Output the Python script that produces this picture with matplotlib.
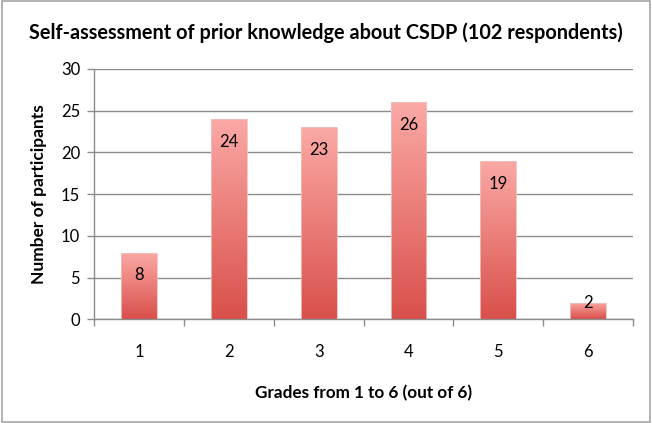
import numpy as np
import matplotlib
matplotlib.use("Agg")
import matplotlib.pyplot as plt
from matplotlib.colors import LinearSegmentedColormap
from matplotlib.patches import Rectangle

grades = ["1", "2", "3", "4", "5", "6"]
counts = [8, 24, 23, 26, 19, 2]
title = "Self-assessment of prior knowledge about CSDP (102 respondents)"
xlabel = "Grades from 1 to 6 (out of 6)"
ylabel = "Number of participants"

plt.rcParams['font.family'] = ['Lato', 'DejaVu Sans']

fig = plt.figure(figsize=(6.52, 4.23), dpi=100)
ax = fig.add_axes([0.1442, 0.2452, 0.9710 - 0.1442, 0.8369 - 0.2452])

# figure border
fig.patches.append(Rectangle((0.003, 0.002), 0.994, 0.995, transform=fig.transFigure,
                             fill=False, edgecolor='#a6a6a6', linewidth=1.2))

cmap = LinearSegmentedColormap.from_list("g", ["#d9504b", "#fba9a5"])
x = np.arange(1, len(counts) + 1)
width = 0.4
bars = ax.bar(x, counts, width=width, color='none', edgecolor='#f0c0bd', linewidth=0.6, zorder=3)
grad = np.linspace(0, 1, 256).reshape(-1, 1)
for b, v in zip(bars, counts):
    x0 = b.get_x()
    im = ax.imshow(grad, extent=(x0, x0 + width, 0, v), origin='lower', cmap=cmap,
                   aspect='auto', zorder=2, interpolation='bicubic')
    im.set_clip_path(b)

for xi, v in zip(x, counts):
    ypos = v - 2.75 if v > 5 else v
    ax.text(xi, ypos, str(v), ha='center', va='center', fontsize=12, color='black', zorder=4)

ax.set_xlim(0.5, 6.5)
ax.set_ylim(0, 30)
ax.set_yticks(range(0, 31, 5))
ax.set_xticks(x)
ax.set_xticklabels(grades)
ax.set_xticks(np.arange(0.5, 6.6, 1), minor=True)
ax.tick_params(axis='x', which='major', length=0, pad=18, labelsize=12)
ax.tick_params(axis='x', which='minor', length=5, color='#8c8c8c', width=1)
ax.tick_params(axis='y', length=5, color='#8c8c8c', width=1, labelsize=12, pad=5)
ax.grid(axis='y', color='#8c8c8c', linewidth=1, zorder=0)
ax.set_axisbelow(True)
for s in ['top', 'right']:
    ax.spines[s].set_visible(False)
for s in ['left', 'bottom']:
    ax.spines[s].set_color('#8c8c8c')
    ax.spines[s].set_linewidth(1)

ax.set_xlabel(xlabel, fontsize=12.3, fontweight='bold', labelpad=18)
ax.set_ylabel(ylabel, fontsize=12.5, fontweight='bold', labelpad=10)
fig.text(0.5, 1 - 33 / 423, title, ha='center', va='center', fontsize=14.3, fontweight='bold')

fig.savefig("out.png", dpi=100)
